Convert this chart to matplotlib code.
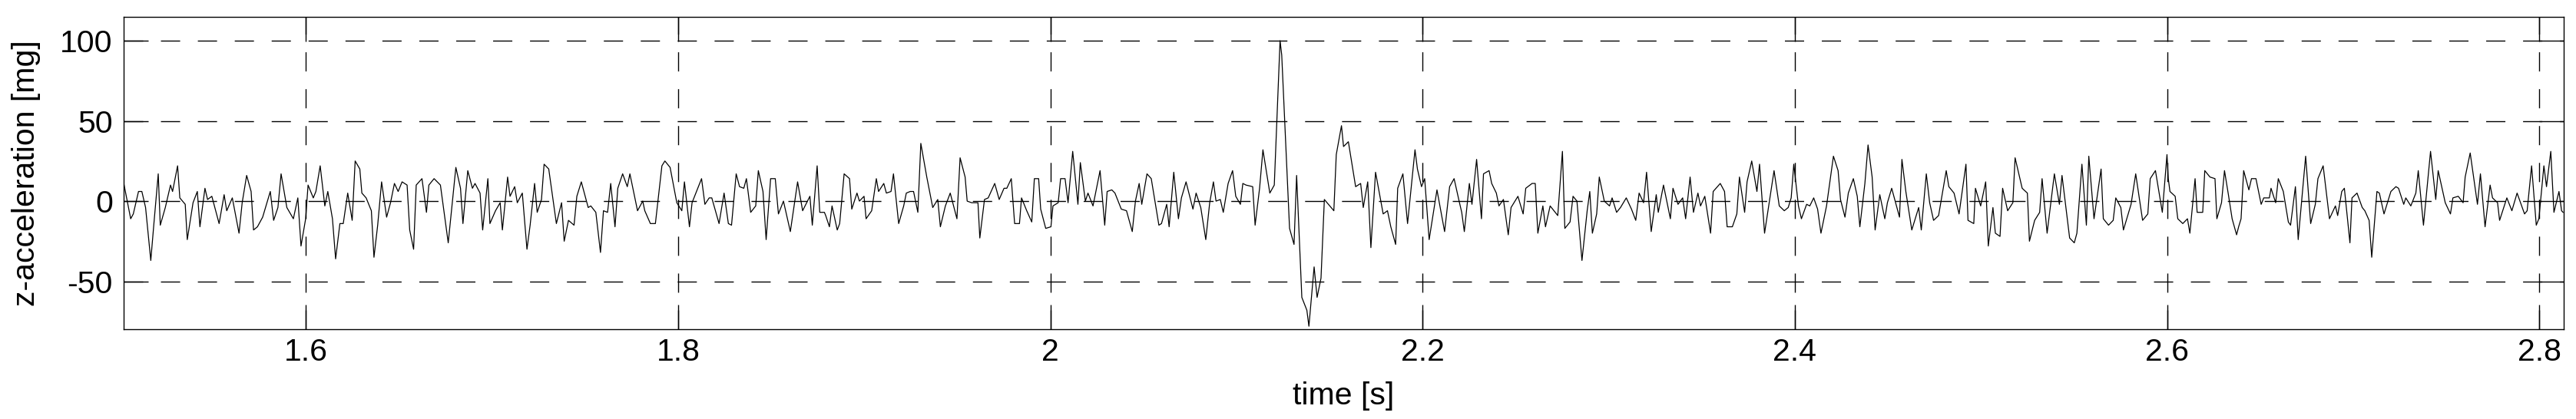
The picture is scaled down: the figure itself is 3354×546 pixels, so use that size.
import matplotlib
matplotlib.use("Agg")
import matplotlib.pyplot as plt
import numpy as np

# z-acceleration trace in seven time windows
seg1_t = [1.5022, 1.5059, 1.5073, 1.5101, 1.5119, 1.5139, 1.5167, 1.5183, 1.5207, 1.5218,
          1.5245, 1.5273, 1.5284, 1.5311, 1.5323, 1.5352, 1.5363, 1.5394, 1.5417, 1.5431,
          1.5458, 1.5472, 1.5495, 1.5534, 1.5561, 1.5575, 1.5605, 1.5641, 1.5658, 1.5682,
          1.5706, 1.5719, 1.5740, 1.5768, 1.5809, 1.5827, 1.5850, 1.5867, 1.5898, 1.5933,
          1.5957, 1.5974, 1.5999, 1.6012, 1.6040, 1.6054, 1.6077, 1.6102, 1.6118, 1.6143,
          1.6160, 1.6183, 1.6201, 1.6225, 1.6249, 1.6265, 1.6290, 1.6301, 1.6324, 1.6352,
          1.6366, 1.6386, 1.6407, 1.6434, 1.6455, 1.6476, 1.6496, 1.6517, 1.6544, 1.6558,
          1.6579, 1.6593, 1.6624, 1.6648, 1.6661, 1.6689, 1.6723, 1.6765, 1.6806, 1.6831,
          1.6844, 1.6870, 1.6895]
seg1_acc = [11, -11, -8, 6, 6, -4, -37, -15, 17, -15,
            -4, 10, 6, 22, 2, -2, -24, -1, 6, -16,
            8, 1, 3, -14, 4, -6, 2, -20, -1, 16,
            6, -18, -16, -10, 6, -12, -4, 17, -4, -11,
            2, -28, -11, 10, 2, 6, 22, -3, 6, -11,
            -36, -14, -14, 5, -12, 25, 20, 5, 2, -6,
            -35, -15, 12, -10, -1, 11, 6, 12, 10, -18,
            -30, 10, 14, -7, 10, 14, 10, -26, 21, 8,
            -14, 19, 8]

seg2_t = [1.6909, 1.6936, 1.6950, 1.6978, 1.6989, 1.7019, 1.7044, 1.7056, 1.7084, 1.7097,
          1.7122, 1.7136, 1.7163, 1.7188, 1.7205, 1.7229, 1.7243, 1.7266, 1.7280, 1.7305,
          1.7346, 1.7374, 1.7388, 1.7411, 1.7441, 1.7456, 1.7480, 1.7517, 1.7531, 1.7558,
          1.7583, 1.7599, 1.7621, 1.7638, 1.7661, 1.7676, 1.7702, 1.7727, 1.7741, 1.7782,
          1.7810, 1.7821, 1.7851, 1.7878, 1.7913, 1.7929, 1.7957, 1.7993, 1.8020, 1.8034,
          1.8061, 1.8075, 1.8126, 1.8144, 1.8167, 1.8181, 1.8220, 1.8247, 1.8270, 1.8287,
          1.8312, 1.8330, 1.8353, 1.8367, 1.8390, 1.8417, 1.8431, 1.8456, 1.8473, 1.8497,
          1.8522, 1.8539, 1.8566, 1.8603, 1.8642, 1.8669, 1.8708, 1.8721, 1.8747, 1.8761,
          1.8786, 1.8793]
seg2_acc = [11, 5, -18, 14, -14, -6, -1, -18, 15, 3,
            9, -1, 5, -30, -15, 11, -7, 1, 23, 20,
            -14, -1, -25, -12, -15, 3, 12, -4, -3, -7,
            -32, -6, -7, 11, -16, 8, 17, 9, 17, -6,
            0, -6, -14, -14, 22, 25, 21, -1, -6, 12,
            -16, -1, 14, -2, 2, 2, -14, 5, -14, -15,
            17, 9, 8, 14, -7, -3, 19, 6, -24, 14,
            14, -8, 0, -19, 12, -6, 3, -15, 22, -7,
            -7, -9]

seg3_t = [1.8813, 1.8827, 1.8855, 1.8868, 1.8892, 1.8921, 1.8933, 1.8961, 1.8974, 1.8999,
          1.9010, 1.9040, 1.9065, 1.9077, 1.9105, 1.9119, 1.9144, 1.9157, 1.9185, 1.9212,
          1.9226, 1.9247, 1.9265, 1.9288, 1.9304, 1.9336, 1.9368, 1.9395, 1.9409, 1.9436,
          1.9462, 1.9498, 1.9515, 1.9542, 1.9553, 1.9577, 1.9611, 1.9621, 1.9646, 1.9666,
          1.9701, 1.9725, 1.9751, 1.9766, 1.9790, 1.9808, 1.9834, 1.9845, 1.9873, 1.9900,
          1.9914, 1.9937, 1.9948, 1.9975, 2.0003, 2.0014, 2.0042, 2.0055, 2.0079, 2.0095,
          2.0120, 2.0148, 2.0161, 2.0188, 2.0202, 2.0229, 2.0267, 2.0292, 2.0305, 2.0330,
          2.0347, 2.0381, 2.0409, 2.0440, 2.0457, 2.0477, 2.0491, 2.0519, 2.0542, 2.0583,
          2.0597, 2.0625, 2.0638, 2.0663, 2.0688]
seg3_acc = [-16, -3, -18, -14, 17, 14, -5, 5, 0, 3,
            -11, -6, 14, 6, 11, 5, 6, 17, -14, -3,
            5, 6, 6, -7, 36, 15, -4, 1, -16, -3,
            5, -11, 27, 15, 0, -1, -1, -23, 1, 2,
            11, 1, 8, 8, 14, -14, -14, 2, -6, -13,
            14, 14, -5, -17, -16, -3, -1, 14, 14, -1,
            31, -2, 24, 0, 5, -3, 19, -15, 6, 7,
            5, -5, -6, -19, 0, 11, -2, 17, 14, -15,
            -14, -2, -16, 18, -11]

seg4_t = [2.0704, 2.0729, 2.0766, 2.0783, 2.0808, 2.0835, 2.0856, 2.0876, 2.0890, 2.0913,
          2.0929, 2.0955, 2.0979, 2.0996, 2.1021, 2.1034, 2.1051, 2.1087, 2.1100, 2.1124,
          2.1142, 2.1179, 2.1203, 2.1234, 2.1243, 2.1285, 2.1309, 2.1323, 2.1351, 2.1378,
          2.1389, 2.1417, 2.1433, 2.1454, 2.1472, 2.1523, 2.1536, 2.1564, 2.1575, 2.1601,
          2.1640, 2.1667, 2.1681, 2.1705, 2.1722, 2.1747, 2.1788, 2.1811, 2.1829, 2.1855,
          2.1866, 2.1894, 2.1919, 2.1959, 2.1972, 2.1994, 2.2011, 2.2035, 2.2077, 2.2118,
          2.2145, 2.2169, 2.2196, 2.2210, 2.2224, 2.2251, 2.2265, 2.2290, 2.2316, 2.2327,
          2.2357, 2.2371, 2.2396, 2.2410, 2.2434, 2.2460, 2.2475, 2.2512, 2.2540, 2.2554,
          2.2588]
seg4_acc = [2, 12, -5, 5, -4, -24, -1, 12, 0, 1,
            -7, 11, 19, 3, -2, 11, 10, 9, -15, 8,
            32, 5, 10, 100, 91, -17, -27, 16, -60, -68,
            -78, -41, -60, -48, 1, -6, 29, 47, 34, 37,
            9, 11, -4, 12, -29, 18, -8, -6, -16, -27,
            8, 17, -14, 32, 20, 9, 14, -24, 7, -19,
            9, 14, 0, -7, -19, 11, -2, 26, -11, 17,
            19, 11, 5, -3, 1, -21, -4, 3, -8, 8,
            11]

seg5_t = [2.2605, 2.2619, 2.2646, 2.2660, 2.2685, 2.2712, 2.2726, 2.2751, 2.2764, 2.2792,
          2.2808, 2.2829, 2.2856, 2.2884, 2.2898, 2.2912, 2.2935, 2.2949, 2.2976, 2.3004,
          2.3018, 2.3042, 2.3063, 2.3094, 2.3122, 2.3145, 2.3163, 2.3187, 2.3203, 2.3228,
          2.3255, 2.3266, 2.3294, 2.3331, 2.3345, 2.3372, 2.3397, 2.3413, 2.3437, 2.3455,
          2.3479, 2.3493, 2.3516, 2.3547, 2.3561, 2.3599, 2.3622, 2.3636, 2.3664, 2.3688,
          2.3702, 2.3730, 2.3743, 2.3768, 2.3796, 2.3810, 2.3837, 2.3888, 2.3916, 2.3943,
          2.3964, 2.3980, 2.3994, 2.4019, 2.4035, 2.4063, 2.4080, 2.4101, 2.4122, 2.4140,
          2.4170, 2.4207, 2.4232, 2.4245, 2.4269, 2.4287, 2.4314, 2.4335, 2.4349, 2.4376,
          2.4393, 2.4415, 2.4431, 2.4456, 2.4483]
seg5_acc = [11, -20, -3, -16, -3, -7, -9, 31, -17, -13,
            3, 0, -37, -6, 6, -20, -8, 15, 0, -3,
            2, -7, -4, 2, -5, -12, 5, -1, 18, -19,
            4, -7, 10, -11, 8, -2, 2, -11, 15, -7,
            5, -3, 3, -20, 6, 11, 6, -16, -16, -8,
            15, -7, 12, 25, 6, 23, -20, 19, -3, -6,
            -4, 2, 23, -3, -11, -2, -3, 2, -5, -20,
            -3, 28, 19, 1, -10, 5, 14, 3, -16, 11,
            35, 15, -18, 4, -11]

seg6_t = [2.4497, 2.4520, 2.4562, 2.4575, 2.4596, 2.4628, 2.4665, 2.4679, 2.4706, 2.4724,
          2.4745, 2.4772, 2.4813, 2.4827, 2.4855, 2.4882, 2.4919, 2.4930, 2.4961, 2.4970,
          2.4998, 2.5025, 2.5039, 2.5064, 2.5077, 2.5102, 2.5116, 2.5143, 2.5171, 2.5183,
          2.5221, 2.5249, 2.5260, 2.5288, 2.5315, 2.5328, 2.5355, 2.5394, 2.5421, 2.5435,
          2.5476, 2.5501, 2.5515, 2.5542, 2.5566, 2.5579, 2.5607, 2.5645, 2.5657, 2.5685,
          2.5710, 2.5724, 2.5751, 2.5765, 2.5806, 2.5831, 2.5868, 2.5896, 2.5909, 2.5937,
          2.5974, 2.5999, 2.6006, 2.6015, 2.6043, 2.6057, 2.6084, 2.6109, 2.6122, 2.6150,
          2.6161, 2.6191, 2.6202, 2.6230, 2.6257, 2.6267, 2.6292, 2.6308, 2.6329, 2.6349,
          2.6373, 2.6384]
seg6_acc = [-1, 8, -10, 26, 6, -18, -4, -18, 17, -1,
            -12, -9, 19, 9, 5, -8, 23, -12, -14, 8,
            -3, 12, -28, -4, -20, -22, 8, -6, -1, 27,
            8, 5, -25, -12, -7, 14, -20, 17, -2, 16,
            -23, -26, -20, 23, -15, 28, -11, 20, -11, -15,
            -12, 2, -4, -18, -2, 17, -12, -8, 14, 19,
            -7, 29, 14, 6, 3, -11, -14, -11, -20, 14,
            -7, -7, 19, 15, 14, -11, -1, 19, 4, -11,
            -21, -16]

seg7_t = [2.6397, 2.6411, 2.6439, 2.6453, 2.6477, 2.6505, 2.6519, 2.6549, 2.6558, 2.6583,
          2.6597, 2.6624, 2.6651, 2.6663, 2.6689, 2.6704, 2.6744, 2.6771, 2.6796, 2.6810,
          2.6838, 2.6872, 2.6904, 2.6916, 2.6938, 2.6952, 2.6982, 2.6993, 2.7020, 2.7048,
          2.7062, 2.7085, 2.7099, 2.7127, 2.7140, 2.7165, 2.7202, 2.7229, 2.7243, 2.7271,
          2.7282, 2.7309, 2.7336, 2.7349, 2.7377, 2.7415, 2.7443, 2.7456, 2.7494, 2.7522,
          2.7535, 2.7564, 2.7590, 2.7601, 2.7628, 2.7667, 2.7683, 2.7708, 2.7735, 2.7748,
          2.7775, 2.7786, 2.7825, 2.7852, 2.7880, 2.7920, 2.7934, 2.7958, 2.7983, 2.7997,
          2.8024, 2.8038, 2.8061, 2.8078, 2.8105, 2.8119, 2.8127]
seg7_acc = [-11, 19, 7, 14, 14, -2, 2, 2, 8, -1,
            14, 6, -13, -15, 9, -24, 28, -14, -2, 14,
            22, -11, -3, -9, 6, 8, -26, 2, 5, -4,
            -6, -12, -35, 6, 5, -8, 6, 9, 8, -2,
            2, -3, 5, 19, -15, 31, 1, 19, -1, -8,
            2, 3, -1, 15, 30, -2, 17, -16, 10, 2,
            -1, -12, 2, -6, 5, -8, -6, 22, -15, -11,
            22, 9, 31, -7, 6, -6, -7]

x_ticks = [1.6, 1.8, 2.0, 2.2, 2.4, 2.6, 2.8]
x_tick_labels = ["1.6", "1.8", "2", "2.2", "2.4", "2.6", "2.8"]
y_ticks = [-50, 0, 50, 100]
y_tick_labels = ["-50", "0", "50", "100"]

t = np.concatenate([seg1_t, seg2_t, seg3_t, seg4_t, seg5_t, seg6_t, seg7_t])
acc = np.concatenate([seg1_acc, seg2_acc, seg3_acc, seg4_acc, seg5_acc, seg6_acc, seg7_acc])
assert len(t) == len(acc)

plt.rcParams['font.family'] = ['Liberation Sans', 'DejaVu Sans']
plt.rcParams['lines.scale_dashes'] = False

fs = 29.5
fig = plt.figure(figsize=(33.55, 5.46), dpi=100)
ax = fig.add_axes([0.0479, 0.2137, 0.9470, 0.7467])

ax.plot(t, acc, color="k", linewidth=0.9)

ax.set_xlim(1.502, 2.813)
ax.set_ylim(-80, 115)
ax.set_xticks(x_ticks)
ax.set_xticklabels(x_tick_labels)
ax.set_yticks(y_ticks)
ax.set_yticklabels(y_tick_labels)

ax.grid(True, color="k", linestyle=(0, (18, 16.6)), linewidth=1.0)
ax.set_axisbelow(True)

ax.tick_params(axis="both", direction="in", length=23, width=1.0,
               top=True, right=True, labelsize=fs)
ax.tick_params(axis="x", pad=8)
ax.tick_params(axis="y", pad=10)
for sp in ax.spines.values():
    sp.set_linewidth(1.0)

ax.set_xlabel("time [s]", fontsize=fs, va="center")
ax.xaxis.set_label_coords(0.5, -0.2127)
ax.set_ylabel("z-acceleration [mg]", fontsize=fs, va="center")
ax.yaxis.set_label_coords(-0.0398, 0.5)

fig.savefig("out.png", dpi=100)
